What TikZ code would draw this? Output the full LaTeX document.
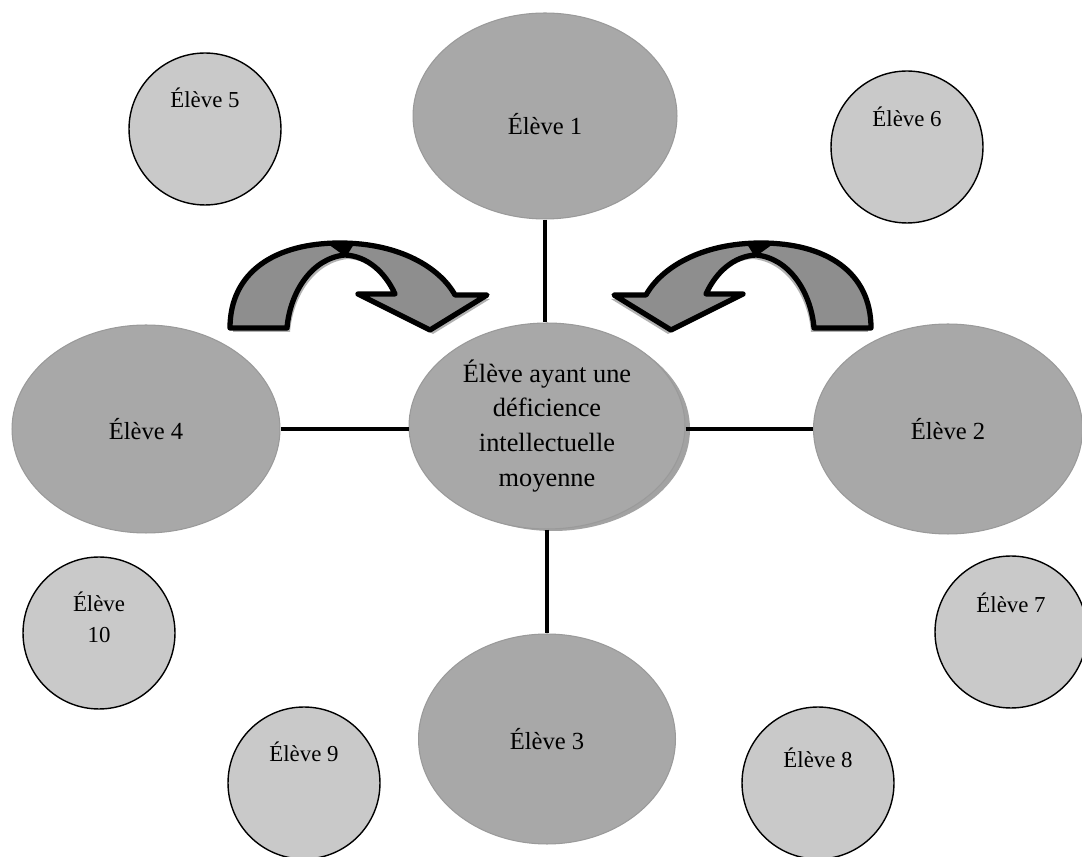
\documentclass[tikz,border=0pt]{standalone}
\usepackage{fontspec}
\setmainfont{Liberation Serif}
\usetikzlibrary{shapes.geometric}
\definecolor{bigfill}{HTML}{A8A8A8}
\definecolor{bigedge}{HTML}{9A9A9A}
\definecolor{smallfill}{HTML}{C9C9C9}
\definecolor{arrowfill}{HTML}{8E8E8E}
\definecolor{shadowgrey}{HTML}{7A7A7A}
\begin{document}
\begin{tikzpicture}[x=0.02cm,y=-0.02cm,
  big/.style={ellipse, fill=bigfill, draw=bigedge, line width=0.6pt, inner sep=0pt,
    font=\fontsize{14}{17}\selectfont},
  small/.style={circle, fill=smallfill, draw=black, line width=0.8pt,
    minimum size=3.04cm, inner sep=0pt},
  lbl/.style={font=\fontsize{13}{17.6}\selectfont, align=center},
  link/.style={line width=2pt, black},
  bendbody/.style={fill=arrowfill, draw=black, line width=3pt, line join=round},
  bendshadow/.style={fill=black!30},
  bendarrow/.pic={
    \path[bendshadow] (233,332) .. controls (233,276) and (278,247) .. (343,247)
      .. controls (403,247) and (443,272) .. (458,299) -- (490,299) -- (433,334)
      -- (361,298) -- (398,298) .. controls (388,276) and (370,260) .. (348,259)
      .. controls (315,262) and (293,296) .. (290,332) -- cycle;
    \path[bendbody] (230,328) .. controls (230,272) and (275,243) .. (340,243)
      .. controls (400,243) and (440,268) .. (455,295) -- (487,295) -- (430,330)
      -- (358,294) -- (395,294) .. controls (385,272) and (367,256) .. (345,255)
      .. controls (312,258) and (290,292) .. (287,328) -- cycle;
    \fill[black] (328,244) -- (354,244) -- (346,257) -- cycle;
  }
]
\useasboundingbox (0,0) rectangle (1082,857);
\fill[white] (0,0) rectangle (1082,857);

% curved arrows
\pic at (0,0) {bendarrow};
\pic[xscale=-1] at (1101,0) {bendarrow};

% central node with 3D edge
\fill[shadowgrey!70] (553,429) ellipse [x radius=137, y radius=102];
\node[big, minimum width=5.52cm, minimum height=4.12cm, align=center,
  font=\fontsize{15}{19.9}\selectfont] (ctr) at (547,426)
  {Élève ayant une\\déficience\\intellectuelle\\moyenne};

% main students
\node[big, minimum width=5.28cm, minimum height=4.12cm,
  label={[font=\fontsize{14}{17}\selectfont, yshift=-0.16cm]center:Élève 1}] (e1) at (545,116) {};
\node[big, minimum width=5.38cm, minimum height=4.2cm] (e2) at (948,429) {Élève 2};
\node[big, minimum width=5.14cm, minimum height=4.2cm] (e3) at (547,739) {Élève 3};
\node[big, minimum width=5.36cm, minimum height=4.16cm] (e4) at (146,429) {Élève 4};

% connectors
\draw[link] (e1.south) -- (e1.south |- ctr.north);
\draw[link] (ctr.south) -- (ctr.south |- e3.north);
\draw[link] (e4.east) -- (e4.east -| ctr.west);
\draw[link] (e2.west -| ctr.east) -- (e2.west);

% other students
\node[small, label={[lbl, yshift=0.62cm]center:Élève 5}] (c5) at (205,129) {};
\node[small, label={[lbl, yshift=0.60cm]center:Élève 6}] (c6) at (907,147) {};
\node[small, label={[lbl, yshift=0.58cm]center:Élève 7}] (c7) at (1011,632) {};
\node[small, label={[lbl, yshift=0.50cm]center:Élève 8}] (c8) at (818,783) {};
\node[small, label={[lbl, yshift=0.62cm]center:Élève 9}] (c9) at (304,783) {};
\node[small, label={[lbl, yshift=0.31cm]center:Élève\\10}] (c10) at (99,633) {};
\end{tikzpicture}
\end{document}
